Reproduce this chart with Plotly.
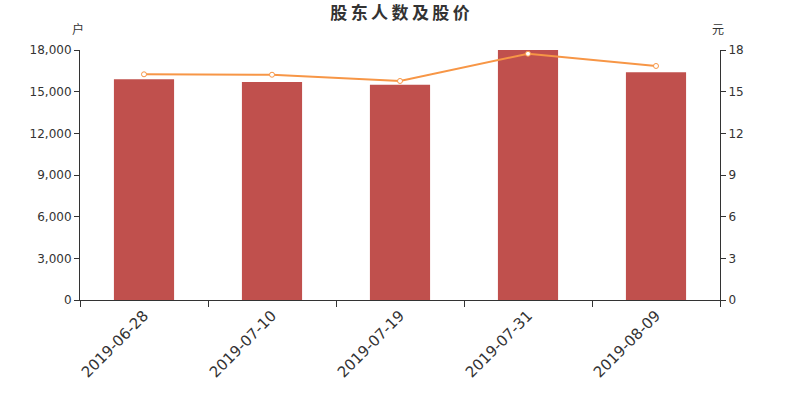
import plotly.graph_objects as go

dates = ["2019-06-28", "2019-07-10", "2019-07-19", "2019-07-31", "2019-08-09"]
holders = [15900, 15700, 15500, 18000, 16400]
prices = [16.25, 16.22, 15.77, 17.73, 16.85]

left_ticks = [0, 3000, 6000, 9000, 12000, 15000, 18000]
left_labels = ["0", "3,000", "6,000", "9,000", "12,000", "15,000", "18,000"]
right_ticks = [0, 3, 6, 9, 12, 15, 18]
title_text = "股东人数及股价"

fig = go.Figure()
fig.add_trace(go.Bar(x=dates, y=holders, marker=dict(color="#c0504d", line=dict(width=0)),
                     width=0.47, yaxis="y", name="股东人数"))
fig.add_trace(go.Scatter(x=dates, y=prices, mode="lines+markers", yaxis="y2", name="股价",
                         line=dict(color="#f79646", width=2),
                         marker=dict(size=5, color="white", line=dict(color="#f79646", width=1))))

axis_font = dict(family="DejaVu Sans", size=12, color="#333")
fig.update_layout(
    width=800, height=400,
    margin=dict(l=80, r=80, t=50, b=100),
    paper_bgcolor="white", plot_bgcolor="white",
    showlegend=False,
    title=dict(text="<b>" + "\u2009".join(title_text) + "</b>", x=0.5, xanchor="center",
               y=1 - 13.5 / 400, yanchor="middle",
               font=dict(family="Noto Sans CJK SC", size=17, color="#333")),
    xaxis=dict(type="category", tickson="boundaries", ticks="outside", ticklen=6,
               tickcolor="#333", showline=True, linecolor="#333", linewidth=1,
               tickangle=-45, tickfont=dict(family="DejaVu Sans", size=15, color="#333"),
               showgrid=False),
    yaxis=dict(range=[0, 18000], tickvals=left_ticks, ticktext=left_labels, ticks="outside",
               ticklen=5, tickcolor="#333", showline=True, linecolor="#333", linewidth=1,
               showgrid=False, zeroline=False, tickfont=axis_font),
    yaxis2=dict(range=[0, 18], tickvals=right_ticks, overlaying="y", side="right",
                ticks="outside", ticklen=5, tickcolor="#333", showline=True, linecolor="#333",
                linewidth=1, showgrid=False, zeroline=False, tickfont=axis_font),
    annotations=[
        dict(text="户", xref="paper", yref="paper", x=0, y=1, xshift=-2, yshift=22,
             xanchor="center", yanchor="middle",
             showarrow=False, font=dict(family="Noto Sans CJK SC", size=12, color="#333")),
        dict(text="元", xref="paper", yref="paper", x=1, y=1, xshift=-2, yshift=22,
             xanchor="center", yanchor="middle",
             showarrow=False, font=dict(family="Noto Sans CJK SC", size=12, color="#333")),
    ],
)
fig.write_html("out.html", config={"displayModeBar": False},
               post_script="document.body.style.margin='0';document.body.style.padding='0';")
